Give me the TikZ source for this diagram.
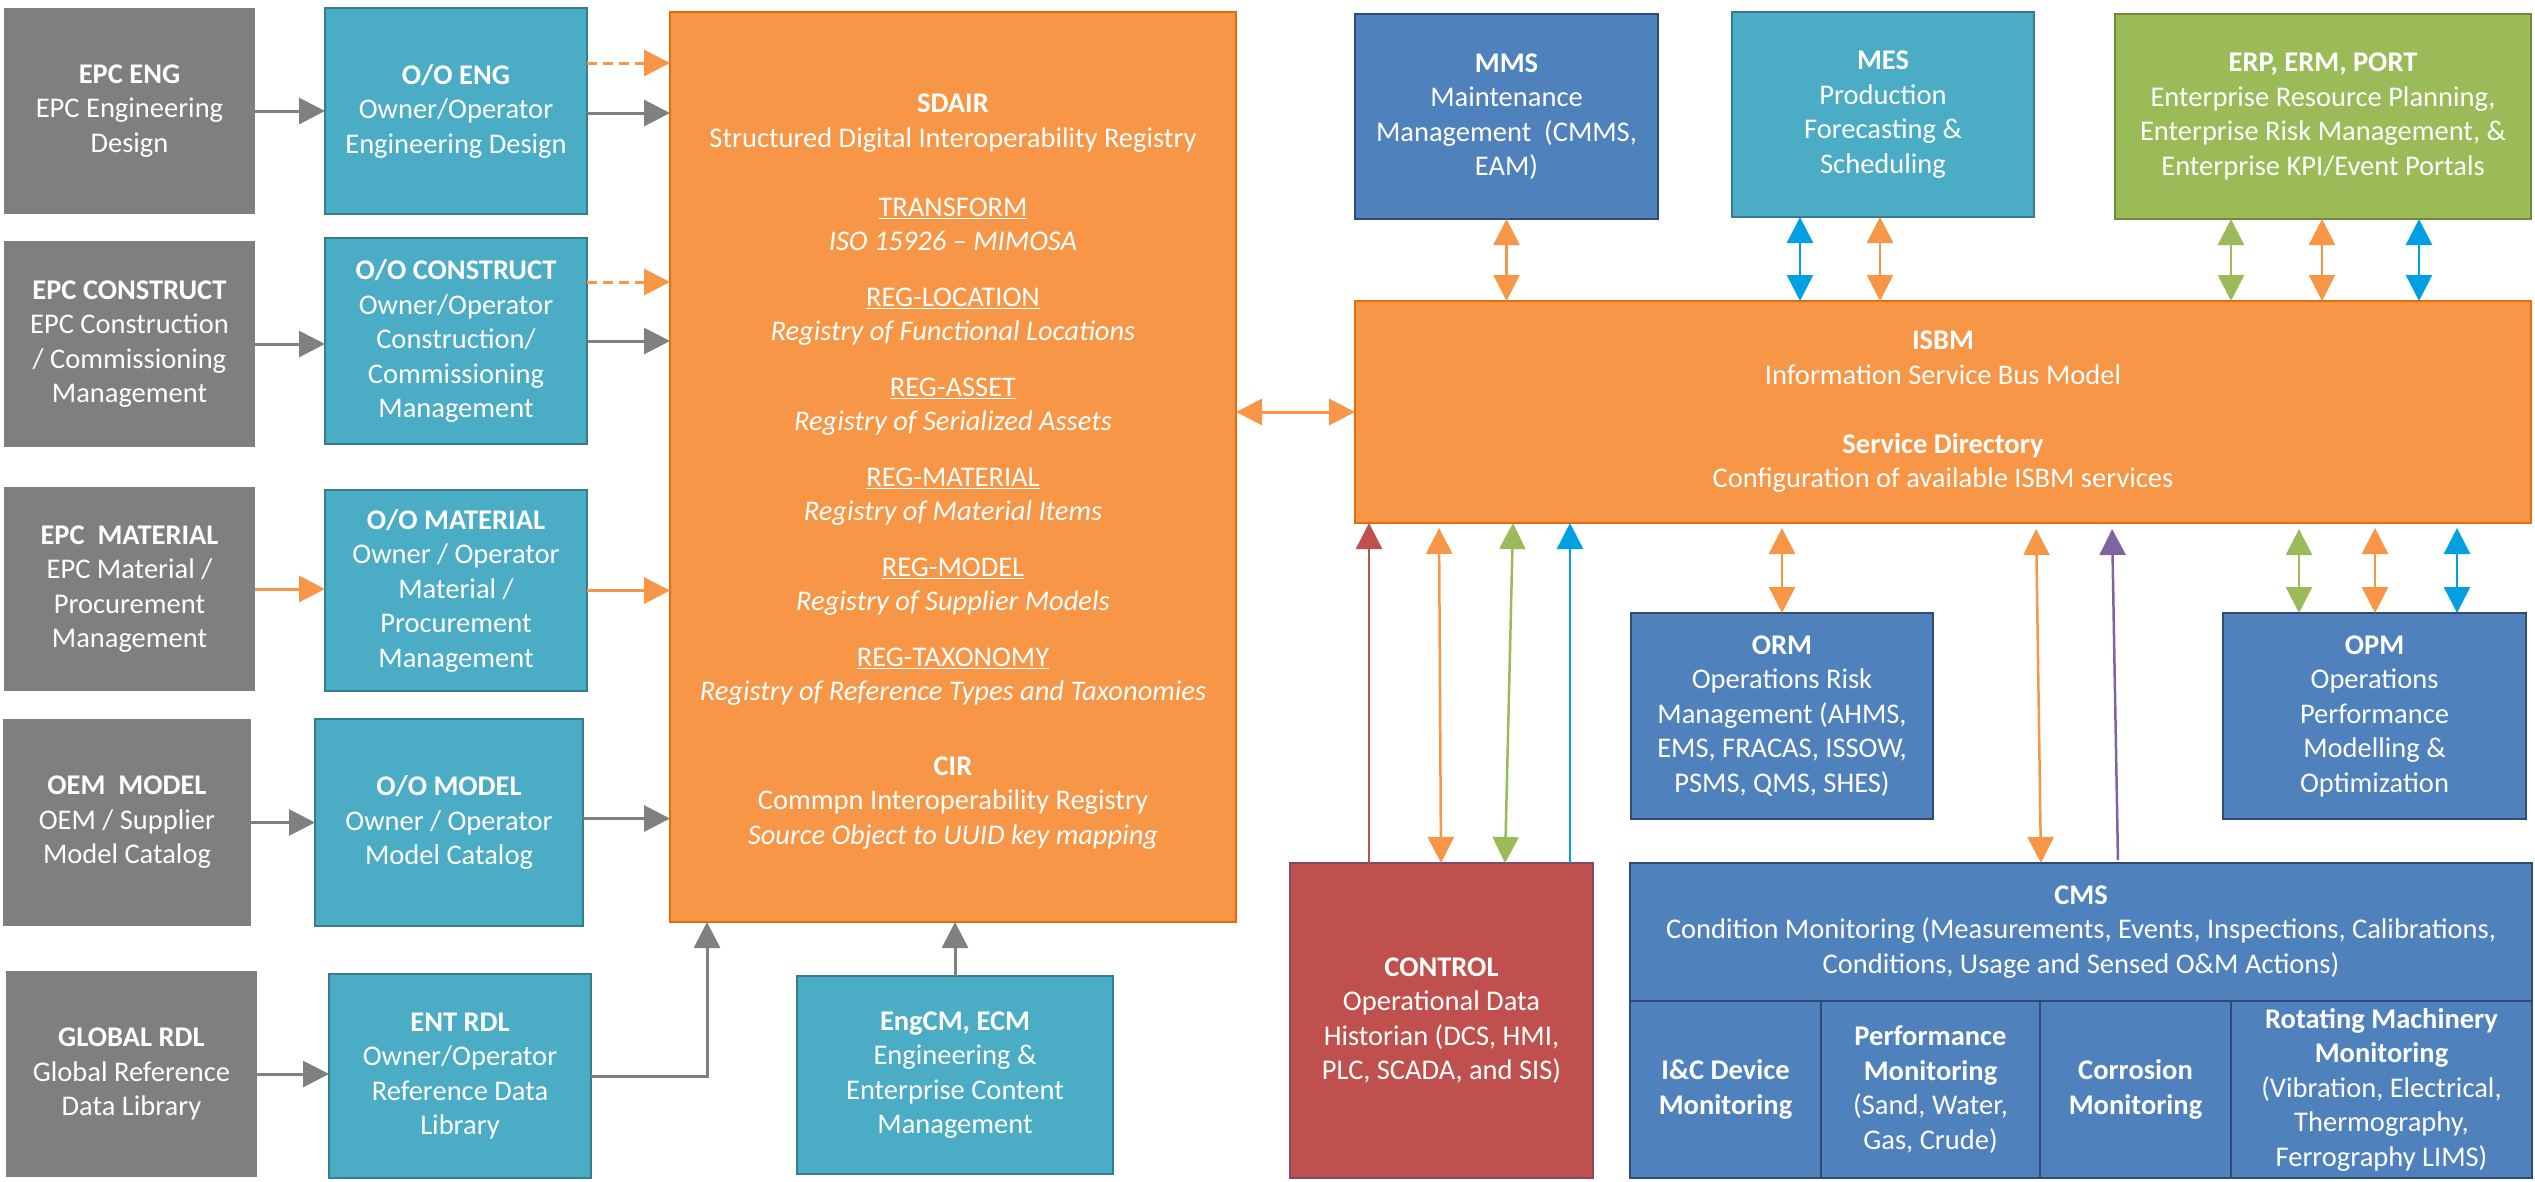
\documentclass[tikz,border=0pt]{standalone}
\usepackage{fontspec}
\setmainfont{Carlito}
\usetikzlibrary{arrows.meta}

\definecolor{grayfill}{HTML}{7F7F7F}
\definecolor{tealfill}{HTML}{4BACC6}
\definecolor{tealline}{HTML}{357D91}
\definecolor{orgfill}{HTML}{F79646}
\definecolor{orgline}{HTML}{E46C0A}
\definecolor{bluefill}{HTML}{4F81BD}
\definecolor{blueline}{HTML}{2F4B75}
\definecolor{grnfill}{HTML}{9BBB59}
\definecolor{grnline}{HTML}{71893F}
\definecolor{redfill}{HTML}{C0504D}
\definecolor{redline}{HTML}{7E4A70}
\definecolor{grayarrow}{HTML}{808080}
\definecolor{orgarrow}{HTML}{F79646}
\definecolor{grnarrow}{HTML}{9BBB59}
\definecolor{cyanarrow}{HTML}{00A0E3}
\definecolor{redarrow}{HTML}{C0504D}
\definecolor{purparrow}{HTML}{8064A2}

% box given by its corners: name, x1, y1, x2, y2, style, text
\newcommand\placebox[7]{%
  \node[#6, minimum width={(#4)-(#2)}, minimum height={(#5)-(#3)}]
    (#1) at ({((#2)+(#4))/2},{((#3)+(#5))/2}) {#7};}

\tikzset{
  bigtri/.tip={Triangle[length=26pt,width=26pt]},
  blk/.style={rectangle, inner sep=0pt, outer sep=0pt, align=center, text=white,
    font=\fontsize{28.5}{34.5}\selectfont, line width=1.5pt},
  graybox/.style={blk, fill=grayfill},
  tealbox/.style={blk, fill=tealfill, draw=tealline},
  orgbox/.style={blk, fill=orgfill, draw=orgline},
  bluebox/.style={blk, fill=bluefill, draw=blueline},
  grnbox/.style={blk, fill=grnfill, draw=grnline},
  redbox/.style={blk, fill=redfill, draw=redline},
  link/.style={line width=3pt, color=#1, -bigtri},
  dashlink/.style={line width=3pt, color=#1, -bigtri, dash pattern=on 10pt off 6pt},
  uplink/.style={line width=2.5pt, color=#1, -bigtri},
  dlink/.style={line width=2.5pt, color=#1, bigtri-bigtri},
}

\begin{document}
\begin{tikzpicture}[x=1pt,y=-1pt]
\useasboundingbox (0,0) rectangle (2535,1181);

% ---- EPC / OEM / global sources
\placebox{epceng}{4}{8}{255}{214}{graybox}{\textbf{EPC ENG}\\EPC Engineering\\Design}
\placebox{epccon}{4}{241}{255}{447}{graybox}{\textbf{EPC CONSTRUCT}\\EPC Construction\\/ Commissioning\\Management}
\placebox{epcmat}{4}{487}{255}{691}{graybox}{\textbf{EPC~ MATERIAL}\\EPC Material /\\Procurement\\Management}
\placebox{oemmod}{3}{719}{251}{926}{graybox}{\textbf{OEM~ MODEL}\\OEM / Supplier\\Model Catalog}
\placebox{globrdl}{6}{971}{257}{1177}{graybox}{\textbf{GLOBAL RDL}\\Global Reference\\Data Library}

% ---- owner/operator systems
\placebox{ooeng}{325}{8}{587}{214}{tealbox}{\textbf{O/O ENG}\\Owner/Operator\\Engineering Design}
\placebox{oocon}{325}{238}{587}{444}{tealbox}{\textbf{O/O CONSTRUCT}\\Owner/Operator\\Construction/\\Commissioning\\Management}
\placebox{oomat}{325}{490}{587}{691}{tealbox}{\textbf{O/O MATERIAL}\\Owner / Operator\\Material /\\Procurement\\Management}
\placebox{oomod}{315}{719}{583}{926}{tealbox}{\textbf{O/O MODEL}\\Owner / Operator\\Model Catalog}
\placebox{entrdl}{329}{974}{591}{1178}{tealbox}{\textbf{ENT RDL}\\Owner/Operator\\Reference Data\\Library}
\placebox{engcm}{797}{976}{1113}{1174}{tealbox}{\textbf{EngCM, ECM}\\Engineering \&\\Enterprise Content\\Management}

% ---- registry
\placebox{sdair}{670}{12}{1236}{922}{orgbox}{\rule{0pt}{28pt}\textbf{SDAIR}\\
Structured Digital Interoperability Registry\\[34.5pt]
\underline{TRANSFORM}\\
\textit{ISO 15926 – MIMOSA}\\[21pt]
\underline{REG-LOCATION}\\
\textit{Registry of Functional Locations}\\[21pt]
\underline{REG-ASSET}\\
\textit{Registry of Serialized Assets}\\[21pt]
\underline{REG-MATERIAL}\\
\textit{Registry of Material Items}\\[21pt]
\underline{REG-MODEL}\\
\textit{Registry of Supplier Models}\\[21pt]
\underline{REG-TAXONOMY}\\
\textit{Registry of Reference Types and Taxonomies}\\[40pt]
\textbf{CIR}\\
Commpn Interoperability Registry\\
\textit{Source Object to UUID key mapping}}

% ---- enterprise applications
\placebox{mms}{1355}{14}{1658}{219}{bluebox}{\textbf{MMS}\\Maintenance\\Management~ (CMMS,\\EAM)}
\placebox{mes}{1732}{12}{2034}{217}{tealbox}{\textbf{MES}\\Production\\Forecasting \&\\Scheduling}
\placebox{erp}{2115}{14}{2531}{219}{grnbox}{\textbf{ERP, ERM, PORT}\\Enterprise Resource Planning,\\Enterprise Risk Management, \&\\Enterprise KPI/Event Portals}

% ---- service bus
\placebox{isbm}{1355}{301}{2531}{523}{orgbox}{\textbf{ISBM}\\Information Service Bus Model\\[34.5pt]\textbf{Service Directory}\\Configuration of available ISBM services}

% ---- operations systems
\placebox{orm}{1631}{613}{1933}{819}{bluebox}{\textbf{ORM}\\Operations Risk\\Management (AHMS,\\EMS, FRACAS, ISSOW,\\PSMS, QMS, SHES)}
\placebox{opm}{2223}{613}{2526}{819}{bluebox}{\textbf{OPM}\\Operations\\Performance\\Modelling \&\\Optimization}
\placebox{control}{1290}{863}{1593}{1178}{redbox}{\textbf{CONTROL}\\Operational Data\\Historian (DCS, HMI,\\PLC, SCADA, and SIS)}
\placebox{cms}{1630}{863}{2532}{1001}{bluebox}{\textbf{CMS}\\Condition Monitoring (Measurements, Events, Inspections, Calibrations,\\Conditions, Usage and Sensed O\&M Actions)}
\placebox{icmon}{1630}{1001}{1821}{1178}{bluebox}{\textbf{I\&C Device}\\\textbf{Monitoring}}
\placebox{perfmon}{1821}{1001}{2040}{1178}{bluebox}{\textbf{Performance}\\\textbf{Monitoring}\\(Sand, Water,\\Gas, Crude)}
\placebox{corrmon}{2040}{1001}{2231}{1178}{bluebox}{\textbf{Corrosion}\\\textbf{Monitoring}}
\placebox{rotmon}{2231}{1001}{2532}{1178}{bluebox}{\textbf{Rotating Machinery}\\\textbf{Monitoring}\\(Vibration, Electrical,\\Thermography,\\Ferrography LIMS)}

% ---- feeds on the left
\draw[link=grayarrow] (epceng.east) -- (epceng.east -| ooeng.west);
\draw[dashlink=orgarrow] ([yshift=48pt]ooeng.east) -- ([yshift=48pt]ooeng.east -| sdair.west);
\draw[link=grayarrow] ([yshift=-2pt]ooeng.east) -- ([yshift=-2pt]ooeng.east -| sdair.west);
\draw[link=grayarrow] (epccon.east) -- (epccon.east -| oocon.west);
\draw[dashlink=orgarrow] ([yshift=59pt]oocon.east) -- ([yshift=59pt]oocon.east -| sdair.west);
\draw[link=grayarrow] (oocon.east) -- (oocon.east -| sdair.west);
\draw[link=orgarrow] (epcmat.east) -- (epcmat.east -| oomat.west);
\draw[link=orgarrow] (oomat.east) -- (oomat.east -| sdair.west);
\draw[link=grayarrow] (oemmod.east) -- (oemmod.east -| oomod.west);
\draw[link=grayarrow] ([yshift=4pt]oomod.east) -- ([yshift=4pt]oomod.east -| sdair.west);
\draw[link=grayarrow] (globrdl.east) -- (globrdl.east -| entrdl.west);
\draw[link=grayarrow] (entrdl.east) -| ([xshift=37pt]sdair.south west);
\draw[link=grayarrow] (engcm.north) -- (engcm.north |- sdair.south);

% ---- registry to service bus
\draw[dlink=orgarrow, line width=3pt] ([yshift=55pt]sdair.east) -- ([yshift=55pt]sdair.east -| isbm.west);

% ---- enterprise applications to service bus
\draw[dlink=orgarrow] (mms.south) -- (mms.south |- isbm.north);
\draw[dlink=cyanarrow] ([xshift=68pt]mes.south west) -- ([xshift=445pt]isbm.north west);
\draw[dlink=orgarrow] ([xshift=148pt]mes.south west) -- ([xshift=525pt]isbm.north west);
\draw[dlink=grnarrow] ([xshift=116pt]erp.south west) -- ([xshift=876pt]isbm.north west);
\draw[dlink=orgarrow] ([xshift=207pt]erp.south west) -- ([xshift=967pt]isbm.north west);
\draw[dlink=cyanarrow] ([xshift=304pt]erp.south west) -- ([xshift=1064pt]isbm.north west);

% ---- operations systems to service bus
\draw[uplink=redarrow] ([xshift=79pt]control.north west) -- ([xshift=14pt]isbm.south west);
\draw[dlink=orgarrow, shorten >=5pt] ([xshift=151pt]control.north west) -- ([xshift=84pt]isbm.south west);
\draw[dlink=grnarrow] ([xshift=215pt]control.north west) -- ([xshift=158pt]isbm.south west);
\draw[uplink=cyanarrow] ([xshift=280pt]control.north west) -- ([xshift=215pt]isbm.south west);
\draw[dlink=orgarrow, shorten >=5pt] (orm.north) -- (orm.north |- isbm.south);
\draw[dlink=orgarrow, shorten >=6pt] ([xshift=411pt]cms.north west) -- ([xshift=681pt]isbm.south west);
\draw[uplink=purparrow, shorten >=6pt, shorten <=3pt] ([xshift=488pt]cms.north west) -- ([xshift=757pt]isbm.south west);
\draw[dlink=grnarrow, shorten >=6pt] ([xshift=76pt]opm.north west) -- ([xshift=944pt]isbm.south west);
\draw[dlink=orgarrow, shorten >=5pt] ([xshift=152pt]opm.north west) -- ([xshift=1020pt]isbm.south west);
\draw[dlink=cyanarrow, shorten >=5pt] ([xshift=234pt]opm.north west) -- ([xshift=1102pt]isbm.south west);
\end{tikzpicture}
\end{document}
